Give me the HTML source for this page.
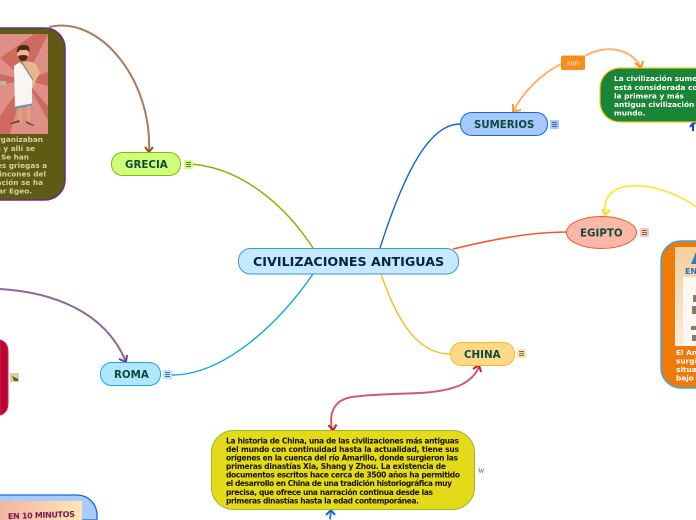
<!DOCTYPE html>
<html><head><meta charset="utf-8"><style>
html,body{margin:0;padding:0;background:#fff;width:696px;height:520px;overflow:hidden}
svg{display:block;overflow:hidden}
text{font-family:"DejaVu Sans","Liberation Sans",sans-serif;font-weight:700}
</style></head><body>
<svg width="696" height="520" viewBox="0 0 696 520" xmlns="http://www.w3.org/2000/svg">
<defs>
<linearGradient id="eg" x1="0" y1="0" x2="0" y2="1"><stop offset="0" stop-color="#f3cf9f"/><stop offset="1" stop-color="#f8eddc"/></linearGradient>
<linearGradient id="bl" x1="0" y1="0" x2="1" y2="0"><stop offset="0" stop-color="#f3b5a0"/><stop offset="1" stop-color="#fde6b8"/></linearGradient>
</defs>
<g fill="none" stroke-width="1.4">
<path d="M188 164C240 166 285 205 313 248" stroke="#8ab000"/>
<path d="M172 375C225 375 280 322 313 274" stroke="#0aa5e8"/>
<path d="M380 248C405 170 430 124 460 124" stroke="#1166d6"/>
<path d="M453 249C490 240 530 232 567 232" stroke="#f9572a" stroke-width="1.6"/>
<path d="M381 274C395 315 415 354 450 354" stroke="#ffb81a"/>
</g>
<g fill="none" stroke-width="2">
<path d="M49 27C100 15 152 80 149 151" stroke="#b07a5a"/>
<path d="M145 147L149 152L153 147" stroke="#9a4a20"/>
<path d="M0 289C50 292 105 310 126 362" stroke="#8a6a9e"/>
<path d="M119 359L126 362L127 355" stroke="#6c3f8e"/>
<path d="M513 112C525 88 545 72 561 64" stroke="#ffb070"/>
<path d="M513 104L513 112L521 110" stroke="#fb9a3c"/>
<path d="M585 56C605 44 632 48 641 68" stroke="#ffb070"/>
<path d="M635 63L641 68L643 61" stroke="#fb8a2c"/>
<path d="M696 207C665 183 600 172 605 214" stroke="#ffe84a"/>
<path d="M602 209L605 215L610 210" stroke="#ffd81a"/>
<path d="M332 429C328 408 338 398 356 396.500C375 394 400 394 420 393C455 391 472 383 479 367" stroke="#d8566e"/>
<path d="M328.500 425L333 430.500L336.500 424.500" stroke="#c8182a"/>
<path d="M473 369L479 365L481 372" stroke="#c8182a"/>
<path d="M330 519.500L331 511" stroke="#3a7fd0"/>
<path d="M326 515L331 510L335 515" stroke="#1166d6"/>
<path d="M693 131L693 123" stroke="#1144e0"/>
<path d="M690 127L694 122L695.500 124" stroke="#1144e0"/>
</g>

<!-- Olive node -->
<path d="M0 28H45A20 20 0 0 1 65 48V180A20 20 0 0 1 45 200H0" fill="#5f5a14" stroke="#6c2a8c" stroke-width="1.5"/>
<rect x="0" y="34" width="48" height="100" fill="#df8f87"/>
<g fill="#cf6a5e">
<path d="M0 58L25 80L48 34H34Z"/><path d="M25 80L48 72V86Z"/><path d="M25 80L48 106V120Z"/><path d="M25 80L0 116V134H10Z"/><path d="M25 80L0 85V74Z"/>
</g>
<path d="M22 62Q30 60 36 64L40 73L36 80L33 88H24Z" fill="#e6b88a"/>
<path d="M14 66L20 62L32 80V106L15 108Z" fill="#f8f6f2"/>
<path d="M15 106.500L32 103.500V106L15 109Z" fill="#6a9aa8"/>
<path d="M22 62L33 80" stroke="#5a8a98" stroke-width="0.8" fill="none"/>
<rect x="18" y="108" width="4" height="14" fill="#d9a57c"/><rect x="27" y="106" width="3" height="16" fill="#d9a57c"/>
<path d="M10 123L19 120L20 122L12 124ZM26 121L34 125L33 126L26 123Z" fill="#6c4a2a"/>
<circle cx="23" cy="54" r="6" fill="#e6b88a"/>
<path d="M17 53Q16 45 24 45Q31 45 29 52L27 50H20Z" fill="#4b2a1c"/>
<path d="M18 56Q23 54 28 56Q27 61 23 61Q19 61 18 56Z" fill="#4b2a1c"/>
<rect x="0" y="81" width="6" height="4" fill="#bcb6a8"/>
<g fill="#d8d2a4" font-size="7.300" text-anchor="end">
<text x="43" y="142">organizaban</text>
<text x="35" y="151">s y allí se</text>
<text x="29" y="159.500">a. Se han</text>
<text x="47" y="168">es griegas a</text>
<text x="46" y="176.500">rincones del</text>
<text x="43" y="185">ación se ha</text>
<text x="32" y="193.500">ar Egeo.</text>
</g>

<!-- Red node -->
<path d="M0 340Q8 342 8 352V403Q8 413 0 415Z" fill="#b8062f" stroke="#e01860" stroke-width="1"/>
<rect x="10" y="373" width="9" height="9" fill="#d8cfa8"/><path d="M12 376L18 379V381H14Z" fill="#6a5a20"/>

<!-- Blue bottom-left node -->
<path d="M0 495H77A20 20 0 0 1 97 515V520H0" fill="#a9ccff" stroke="#1a66d6" stroke-width="1.3"/>
<rect x="0" y="501" width="82" height="19" fill="url(#bl)"/>
<text x="8" y="518" font-size="8" fill="#7a1450" textLength="67" transform="rotate(-2 40 517)">EN 10 MINUTOS</text>

<!-- Yellow China node -->
<rect x="211.500" y="430.500" width="263" height="79" rx="22" fill="#e5da1a" stroke="#9ab82a" stroke-width="1"/>
<g fill="#141400" font-size="7.5" letter-spacing="0">
<text x="226" y="443.500" textLength="233">La historia de China, una de las civilizaciones más antiguas</text>
<text x="226" y="452" textLength="233">del mundo con continuidad hasta la actualidad, tiene sus</text>
<text x="226" y="460.500" textLength="232">orígenes en la cuenca del río Amarillo, donde surgieron las</text>
<text x="226" y="469" textLength="220">primeras dinastías Xia, Shang y Zhou. La existencia de</text>
<text x="226" y="477.500" textLength="234">documentos escritos hace cerca de 3500 años ha permitido</text>
<text x="226" y="486" textLength="226">el desarrollo en China de una tradición historiográfica muy</text>
<text x="226" y="495" textLength="207">precisa, que ofrece una narración continua desde las</text>
<text x="226" y="503.500" textLength="193">primeras dinastías hasta la edad contemporánea.</text>
</g>
<text x="478" y="473" font-size="9" fill="#555" style="font-family:'Liberation Serif',serif;font-weight:400">w</text>

<!-- Green Sumerian node -->
<path d="M696 68H620A20 20 0 0 0 600 88V102A20 20 0 0 0 620 122H696" fill="#1a8437" stroke="#f5c518" stroke-width="1.2"/>
<g fill="#fff" font-size="7.400">
<text x="614" y="81">La civilización sumeria</text>
<text x="614" y="90">está considerada como</text>
<text x="614" y="98.500">la primera y más</text>
<text x="614" y="107">antigua civilización del</text>
<text x="614" y="115.500">mundo.</text>
</g>

<!-- Orange Egypt node -->
<path d="M696 241H681A20 20 0 0 0 661 261V368A20 20 0 0 0 681 388H696" fill="#ef7a0c" stroke="#33a9e0" stroke-width="1.4"/>
<rect x="675" y="247" width="21" height="99" fill="url(#eg)"/>
<rect x="683" y="277" width="13" height="69" fill="#fbf8f2"/>
<path d="M691 264L696 252V264Z" fill="#2f7fb5"/>
<text x="685" y="274" font-size="8" fill="#2f6ea5">EN</text>
<g fill="#8a7a65">
<rect x="693" y="295" width="3" height="7"/><rect x="692" y="306" width="4" height="8"/><rect x="691" y="326" width="5" height="4"/><rect x="692" y="335" width="4" height="6"/>
</g>
<g fill="#fff" font-size="7.400">
<text x="676" y="355">El Antiguo</text>
<text x="676" y="363.500">surgió</text>
<text x="676" y="372">situado</text>
<text x="676" y="380.500">bajo</text>
</g>

<!-- son -->
<rect x="561" y="55.500" width="24" height="14.500" rx="2" fill="#f98d1e"/>
<text x="573" y="65.500" font-size="7" fill="#fde8d0" text-anchor="middle" style="font-weight:400">son</text>

<!-- Central -->
<rect x="238.500" y="248.500" width="220" height="25.500" rx="12" fill="#c5eaff" stroke="#3d96d6" stroke-width="1"/>
<text x="253" y="266" font-size="12.700" fill="#0a1f4a">CIVILIZACIONES ANTIGUAS</text>

<!-- Main nodes -->
<rect x="460.500" y="112.500" width="87" height="23" rx="11" fill="#a5c9ff" stroke="#1a66d6"/>
<text x="474" y="128" font-size="10.200" fill="#0d4a3a">SUMERIOS</text>

<ellipse cx="601.500" cy="232.500" rx="35" ry="16" fill="#fbb8a8" stroke="#f9572a"/>
<text x="580" y="236.500" font-size="10.300" fill="#0d4a3a">EGIPTO</text>

<rect x="450.500" y="342.500" width="64" height="23" rx="11" fill="#ffd98a" stroke="#ffb81a"/>
<text x="464" y="358" font-size="10.300" fill="#0d4a3a">CHINA</text>

<rect x="100.500" y="362.500" width="60" height="23" rx="11" fill="#b0e6ff" stroke="#14a8ee"/>
<text x="114" y="378" font-size="10.300" fill="#0d4a3a">ROMA</text>

<rect x="111.500" y="152.500" width="69" height="23" rx="11" fill="#ceff78" stroke="#8ab800"/>
<text x="125" y="168" font-size="10.300" fill="#0d4a3a">GRECIA</text>

<!-- note icons -->
<g>
<rect x="550" y="120" width="9" height="9" rx="1" fill="#a5c9ff"/>
<rect x="640" y="228" width="9" height="9" rx="1" fill="#fbc4b6"/>
<rect x="517" y="349" width="9" height="9" rx="1" fill="#ffe3a8"/>
<rect x="163" y="370" width="9" height="9" rx="1" fill="#b0e6ff"/>
<rect x="184" y="160" width="9" height="9" rx="1" fill="#ceff78"/>
</g>
<g stroke="#3c4a50" stroke-width="0.8">
<path d="M552 122.500h5M552 124.500h5M552 126.500h5"/>
<path d="M642 230.500h5M642 232.500h5M642 234.500h5"/>
<path d="M519 351.500h5M519 353.500h5M519 355.500h5"/>
<path d="M165 372.500h5M165 374.500h5M165 376.500h5"/>
<path d="M186 162.500h5M186 164.500h5M186 166.500h5"/>
</g>
</svg>
</body></html>
